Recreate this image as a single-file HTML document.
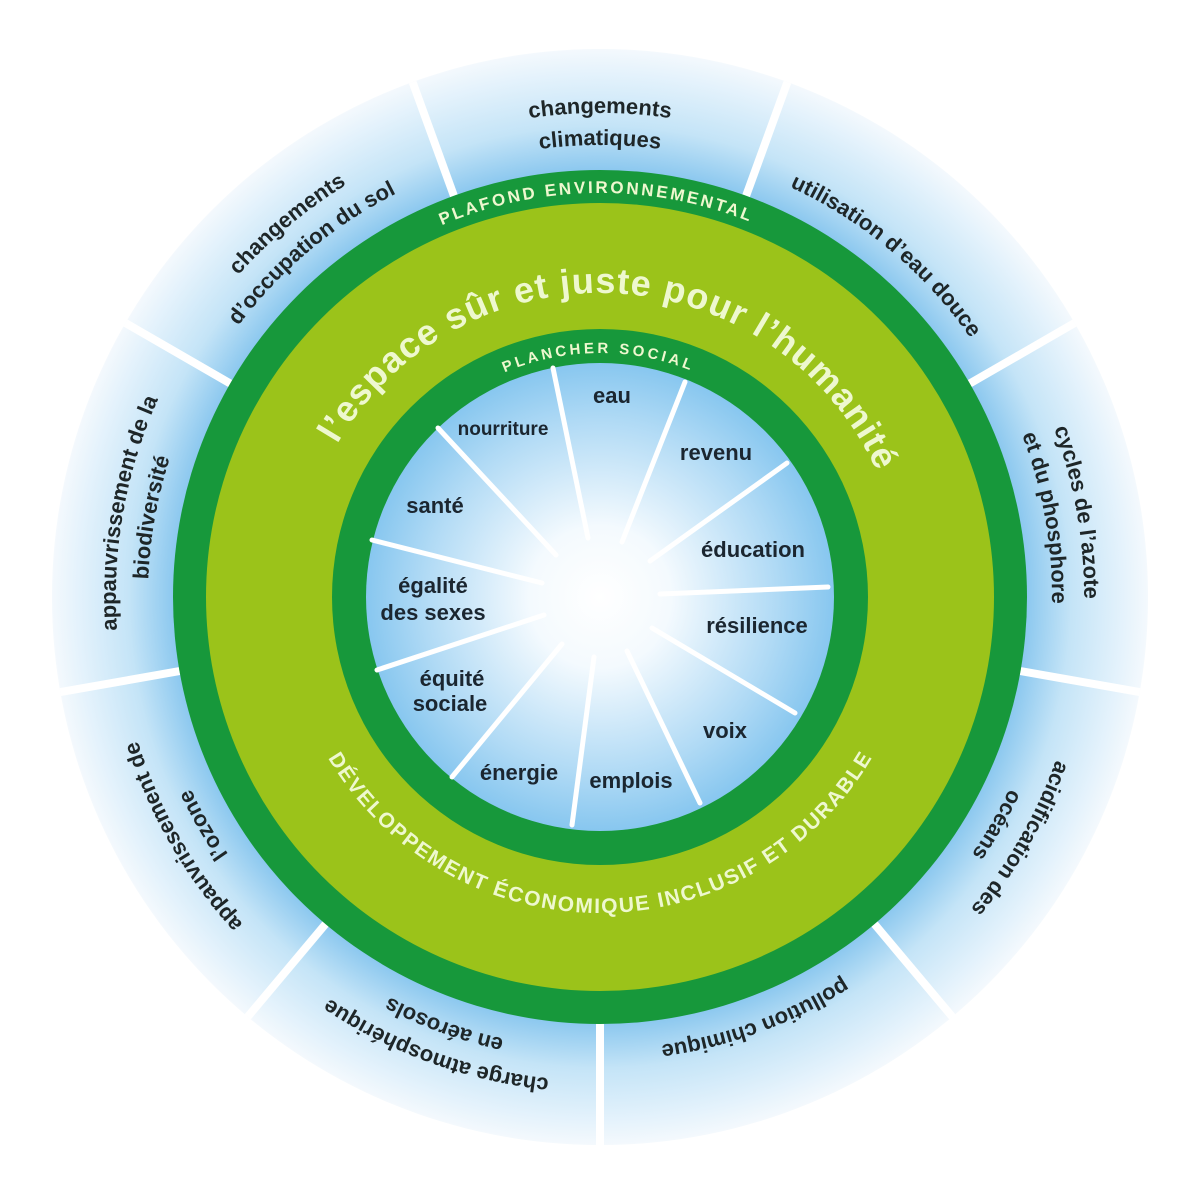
<!DOCTYPE html>
<html><head><meta charset="utf-8"><style>
html,body{margin:0;padding:0;background:#fff;}
svg{display:block;}
</style></head><body>
<svg width="1200" height="1200" viewBox="0 0 1200 1200" xmlns="http://www.w3.org/2000/svg" font-family="'Liberation Sans', Arial, sans-serif">
<defs>
<radialGradient id="outerG" cx="600" cy="597" r="548" gradientUnits="userSpaceOnUse">
<stop offset="0.77" stop-color="#86c5ee"/>
<stop offset="0.86" stop-color="#c4e4f7"/>
<stop offset="0.96" stop-color="#e6f3fc"/>
<stop offset="1" stop-color="#f4f9fd"/>
</radialGradient>
<radialGradient id="innerG" cx="600" cy="597" r="236" gradientUnits="userSpaceOnUse">
<stop offset="0" stop-color="#ffffff"/>
<stop offset="0.3" stop-color="#f4fafe"/>
<stop offset="0.75" stop-color="#b0daf5"/>
<stop offset="1" stop-color="#86c6ef"/>
</radialGradient>
<path id="c484" d="M600,1081 A484,484 0 1 1 600,113 A484,484 0 1 1 600,1081"/>
<path id="c452" d="M600,1049 A452,452 0 1 1 600,145 A452,452 0 1 1 600,1049"/>
<path id="c404" d="M600,1001 A404,404 0 1 1 600,193 A404,404 0 1 1 600,1001"/>
<path id="c304" d="M600,901 A304,304 0 1 1 600,293 A304,304 0 1 1 600,901"/>
<path id="c244" d="M600,841 A244,244 0 1 1 600,353 A244,244 0 1 1 600,841"/>
<path id="cBot" d="M284,597 A316,316 0 0 0 916,597"/>
</defs>

<circle cx="600" cy="597" r="548" fill="url(#outerG)"/>
<g stroke="#ffffff" stroke-width="8">
<line x1="453.9" y1="195.8" x2="412.6" y2="82.1"/>
<line x1="746.1" y1="195.8" x2="787.4" y2="82.1"/>
<line x1="969.8" y1="383.5" x2="1074.6" y2="323"/>
<line x1="1020.5" y1="671.1" x2="1139.7" y2="692.1"/>
<line x1="874.5" y1="924.1" x2="952.3" y2="1016.8"/>
<line x1="600" y1="1024" x2="600" y2="1145"/>
<line x1="325.5" y1="924.1" x2="247.7" y2="1016.8"/>
<line x1="179.5" y1="671.1" x2="60.3" y2="692.1"/>
<line x1="230.2" y1="383.5" x2="125.4" y2="323"/>
</g>

<circle cx="600" cy="597" r="427" fill="#17983b"/>
<circle cx="600" cy="597" r="394" fill="#9bc31a"/>
<circle cx="600" cy="597" r="268" fill="#17983b"/>
<circle cx="600" cy="597" r="234" fill="url(#innerG)"/>

<g stroke="#ffffff" stroke-width="5" stroke-linecap="round">
<line x1="553" y1="368" x2="588" y2="538"/>
<line x1="685" y1="382" x2="622" y2="542"/>
<line x1="787" y1="463" x2="650" y2="561"/>
<line x1="828" y1="587" x2="660" y2="594"/>
<line x1="795" y1="713" x2="652" y2="628"/>
<line x1="700" y1="803" x2="627" y2="651"/>
<line x1="572" y1="825" x2="594" y2="657"/>
<line x1="452" y1="777" x2="562" y2="644"/>
<line x1="377" y1="670" x2="544" y2="615"/>
<line x1="372" y1="540" x2="542" y2="583"/>
<line x1="438" y1="428" x2="556" y2="555"/>
</g>

<g fill="#1b2630" font-weight="bold" font-size="22" text-anchor="middle">
<text x="612" y="403">eau</text>
<text x="503" y="435" font-size="19">nourriture</text>
<text x="716" y="460">revenu</text>
<text x="435" y="513">santé</text>
<text x="753" y="557">éducation</text>
<text x="433" y="593">égalité</text>
<text x="433" y="620">des sexes</text>
<text x="757" y="633">résilience</text>
<text x="452" y="686">équité</text>
<text x="450" y="711">sociale</text>
<text x="725" y="738">voix</text>
<text x="519" y="780">énergie</text>
<text x="631" y="788">emplois</text>
</g>

<g fill="#1e2628" font-weight="bold" font-size="22" text-anchor="middle">
<text><textPath href="#c484" startOffset="50%">changements</textPath></text>
<text><textPath href="#c452" startOffset="50%">climatiques</textPath></text>
<text><textPath href="#c452" startOffset="61.1%">utilisation d’eau douce</textPath></text>
<text><textPath href="#c484" startOffset="72.2%">cycles de l’azote</textPath></text>
<text><textPath href="#c452" startOffset="72.2%">et du phosphore</textPath></text>
<text><textPath href="#c484" startOffset="83.3%">acidification des</textPath></text>
<text><textPath href="#c452" startOffset="83.3%">océans</textPath></text>
<text><textPath href="#c452" startOffset="94.4%">pollution chimique</textPath></text>
<text><textPath href="#c484" startOffset="5.56%">charge atmosphérique</textPath></text>
<text><textPath href="#c452" startOffset="5.56%">en aérosols</textPath></text>
<text><textPath href="#c484" startOffset="16.7%">appauvrissement de</textPath></text>
<text><textPath href="#c452" startOffset="16.7%">l’ozone</textPath></text>
<text><textPath href="#c484" startOffset="27.8%">appauvrissement de la</textPath></text>
<text><textPath href="#c452" startOffset="27.8%">biodiversité</textPath></text>
<text><textPath href="#c484" startOffset="38.9%">changements</textPath></text>
<text><textPath href="#c452" startOffset="38.9%">d’occupation du sol</textPath></text>
</g>

<g fill="#eef8cf" font-weight="bold" text-anchor="middle">
<text font-size="17"><textPath href="#c404" startOffset="49.8%" textLength="315" lengthAdjust="spacing">PLAFOND ENVIRONNEMENTAL</textPath></text>
<text font-size="36"><textPath href="#c304" startOffset="50.8%" textLength="665" lengthAdjust="spacing">l’espace sûr et juste pour l’humanité</textPath></text>
<text font-size="15"><textPath href="#c244" startOffset="49.8%" textLength="190" lengthAdjust="spacing">PLANCHER SOCIAL</textPath></text>
<text font-size="21"><textPath href="#cBot" startOffset="50%" textLength="655" lengthAdjust="spacing">DÉVELOPPEMENT ÉCONOMIQUE INCLUSIF ET DURABLE</textPath></text>
</g>
</svg>
</body></html>
